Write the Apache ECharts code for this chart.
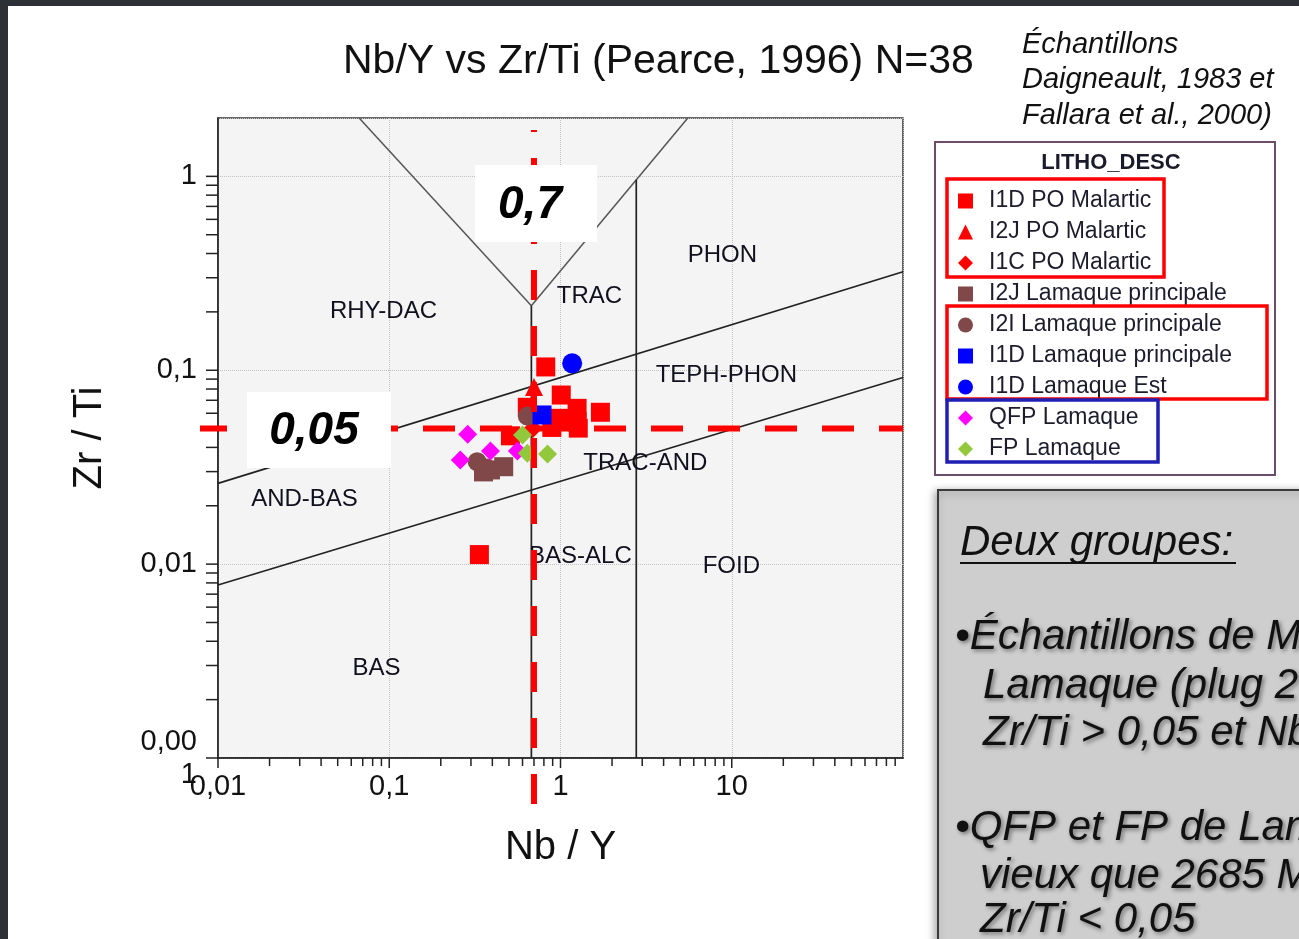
<!DOCTYPE html>
<html>
<head>
<meta charset="utf-8">
<script src="https://cdn.jsdelivr.net/npm/echarts@6.0.0/dist/echarts.min.js"></script>
<style>
html, body { margin: 0; padding: 0; background: #fff; }
#main { width: 1299px; height: 939px; }
</style>
</head>
<body>
<div id="main"></div>
<script>
// valeurs : [Nb/Y, Zr/Ti]
const i1dPoMalartic = [[0.82, 0.104], [1.01, 0.0745], [1.25, 0.0636], [1.71, 0.0607], [0.975, 0.0565],
    [1.25, 0.0542], [0.89, 0.0507], [1.27, 0.0503], [0.64, 0.0644], [0.51, 0.0459], [0.336, 0.0112]];
const i2jPoMalartic = [[0.70, 0.082]];
const i1cPoMalartic = [[0.69, 0.050]];
const i2jLamaquePrincipale = [[0.39, 0.0306], [0.466, 0.0318], [0.355, 0.0299]];
const i2iLamaquePrincipale = [[0.64, 0.058], [0.326, 0.0337], [0.37, 0.0313]];
const i1dLamaquePrincipale = [[0.78, 0.0588]];
const i1dLamaqueEst = [[1.17, 0.1085]];
const qfpLamaque = [[0.287, 0.0467], [0.39, 0.0383], [0.26, 0.0344], [0.56, 0.0383]];
const fpLamaque = [[0.60, 0.0463], [0.64, 0.0373], [0.84, 0.037]];

// limites du diagramme de Pearce (1996)
const pearceLines = [
    [[0.0667, 2], [0.676, 0.215]],
    [[0.676, 0.215], [5.54, 2]],
    [[0.676, 0.215], [0.676, 0.001]],
    [[2.77, 0.96], [2.77, 0.001]],
    [[0.01, 0.0261], [100, 0.322]],
    [[0.01, 0.0078], [100, 0.0918]]
];
const regionNames = ['RHY-DAC', 'TRAC', 'PHON', 'TEPH-PHON', 'TRAC-AND', 'AND-BAS', 'BAS-ALC', 'FOID', 'BAS'];
const regionPos = [[0.0925, 0.2018], [1.475, 0.2414], [8.81, 0.3926], [9.3, 0.0945], [3.13, 0.0332],
    [0.032, 0.02166], [1.307, 0.011], [9.95, 0.00977], [0.0842, 0.00291]];

// seuils
const nbyCut = 0.7;
const zrtiCut = 0.05;

// axes
const xMin = 0.01, xMax = 100, yMin = 0.001, yMax = 2;
const xTickValues = [0.01, 0.1, 1, 10];
const xTickLabels = ['0,01', '0,1', '1', '10'];
const yTickValues = [0.001, 0.01, 0.1, 1];
const yTickLabels = ['0,00\n1', '0,01', '0,1', '1'];
const minorSteps = [1, 2, 3, 4, 5, 6, 7, 8, 9];

const FONT = '"Liberation Sans", Arial, sans-serif';

function tickLabel(v, values, labels) {
    for (let i = 0; i < values.length; i++) {
        if (Math.abs(Math.log10(v) - Math.log10(values[i])) < 1e-6) return labels[i];
    }
    return '';
}

// graduations log (1..9 par décade)
const tickItems = [];
[0.01, 0.1, 1, 10].forEach(d => minorSteps.forEach(s => tickItems.push([d * s, yMin, s === 1 ? 1 : 0])));
[0.001, 0.01, 0.1].forEach(d => minorSteps.forEach(s => tickItems.push([xMin, d * s, 2])));
tickItems.push([xMin, 1, 2]);

const chart = echarts.init(document.getElementById('main'));

function points(name, data, symbol, color, size) {
    return {
        type: 'scatter', name: name, data: data, symbol: symbol, symbolSize: size,
        itemStyle: { color: color, opacity: 1 }, z: 5, silent: true
    };
}

const legendNames = ['I1D PO Malartic', 'I2J PO Malartic', 'I1C PO Malartic', 'I2J Lamaque principale',
    'I2I Lamaque principale', 'I1D Lamaque principale', 'I1D Lamaque Est', 'QFP Lamaque', 'FP Lamaque'];
const legendIcons = ['rect', 'triangle', 'diamond', 'rect', 'circle', 'rect', 'circle', 'diamond', 'diamond'];

const series = [];
pearceLines.forEach((seg, i) => {
    series.push({
        type: 'line', data: seg, symbol: 'none', silent: true, z: 2,
        lineStyle: { color: i < 2 ? '#555' : '#222', width: i < 2 ? 1.5 : 1.7 }
    });
});
series.push({
    type: 'scatter', name: 'regions', silent: true, z: 2, symbolSize: 1,
    itemStyle: { color: 'transparent', opacity: 1 },
    data: regionNames.map((n, i) => ({ name: n, value: regionPos[i] })),
    label: { show: true, position: 'inside', formatter: p => p.name, fontSize: 24, color: '#10101e', fontFamily: FONT }
});
series.push(points(legendNames[0], i1dPoMalartic, 'rect', '#ff0000', 19));
series.push(points(legendNames[1], i2jPoMalartic, 'triangle', '#ff0000', 18));
series.push(points(legendNames[2], i1cPoMalartic, 'diamond', '#ff0000', 19));
series.push(points(legendNames[3], i2jLamaquePrincipale, 'rect', '#804848', 19));
series.push(points(legendNames[4], i2iLamaquePrincipale, 'circle', '#804848', 19));
series.push(points(legendNames[5], i1dLamaquePrincipale, 'rect', '#0000ff', 19));
series.push(points(legendNames[6], i1dLamaqueEst, 'circle', '#0000ff', 20));
series.push(points(legendNames[7], qfpLamaque, 'diamond', '#ff00ff', 19));
series.push(points(legendNames[8], fpLamaque, 'diamond', '#94c83c', 19));

// petites graduations
series.push({
    type: 'custom', name: 'ticks', silent: true, clip: false, z: 3,
    encode: { x: 0, y: 1 },
    data: tickItems,
    renderItem: function (params, api) {
        const p = api.coord([api.value(0), api.value(1)]);
        const kind = api.value(2);
        if (kind === 2) {
            return { type: 'line', shape: { x1: p[0] - 12, y1: p[1], x2: p[0], y2: p[1] },
                style: { stroke: '#222', lineWidth: 1.5 } };
        }
        return { type: 'line', shape: { x1: p[0], y1: p[1], x2: p[0], y2: p[1] + (kind === 1 ? 10 : 8) },
            style: { stroke: '#222', lineWidth: 1.5 } };
    }
});

// traits rouges des seuils
series.push({
    type: 'custom', name: 'cuts', silent: true, clip: false, z: 6,
    encode: { x: 0, y: 1 },
    data: [[nbyCut, zrtiCut]],
    renderItem: function (params, api) {
        const c = api.coord([api.value(0), api.value(1)]);
        const lb = api.coord([xMin, yMin]);
        const rt = api.coord([xMax, yMax]);
        return {
            type: 'group', children: [
                { type: 'line', shape: { x1: lb[0] - 18, y1: c[1], x2: rt[0], y2: c[1] },
                    style: { stroke: '#ff0000', lineWidth: 6, lineDash: [32, 25], lineDashOffset: 5 } },
                { type: 'line', shape: { x1: c[0], y1: rt[1] + 12, x2: c[0], y2: lb[1] + 47 },
                    style: { stroke: '#ff0000', lineWidth: 6, lineDash: [30, 26], lineDashOffset: 28 } }
            ]
        };
    }
});

const noteFont = 'italic 29px ' + FONT;
const boxFont = 'italic 42px ' + FONT;
const shadow = { textShadowBlur: 4, textShadowColor: 'rgba(0,0,0,0.45)', textShadowOffsetX: 2, textShadowOffsetY: 2 };

function txt(text, x, y, font, extra, z) {
    return {
        type: 'text', x: x, y: y, z: z || 20,
        style: Object.assign({ text: text, font: font, fill: '#111', textAlign: 'left', align: 'left',
            textVerticalAlign: 'middle', verticalAlign: 'middle' }, extra || {})
    };
}

const option = {
    backgroundColor: '#fff',
    animation: false,
    textStyle: { fontFamily: FONT },
    title: {
        text: 'Nb/Y vs Zr/Ti (Pearce, 1996) N=38', left: 343, top: 41, padding: 0,
        textStyle: { fontSize: 41, fontWeight: 'normal', color: '#111', fontFamily: FONT }
    },
    grid: {
        left: 218, top: 118, width: 685, height: 640, show: true,
        backgroundColor: '#f4f4f4', borderColor: '#333', borderWidth: 1.5,
        containLabel: false, outerBoundsMode: 'none'
    },
    xAxis: {
        type: 'log', logBase: 10, min: xMin, max: xMax,
        name: 'Nb / Y', nameLocation: 'middle', nameGap: 70,
        nameTextStyle: { fontSize: 40, color: '#111', fontFamily: FONT },
        axisLine: { show: true, lineStyle: { color: '#222', width: 1.5 } },
        axisTick: { show: false },
        splitLine: { show: true, lineStyle: { type: 'dotted', color: '#c2c2c2', width: 1 } },
        axisLabel: { margin: 14, fontSize: 29, color: '#111', fontFamily: FONT, showMinLabel: true,
            formatter: v => tickLabel(v, xTickValues, xTickLabels) }
    },
    yAxis: {
        type: 'log', logBase: 10, min: yMin, max: yMax,
        name: 'Zr / Ti', nameLocation: 'middle', nameRotate: 90, nameGap: 108,
        nameTextStyle: { fontSize: 40, color: '#111', fontFamily: FONT },
        axisLine: { show: true, lineStyle: { color: '#222', width: 1.5 } },
        axisTick: { show: false },
        splitLine: { show: true, lineStyle: { type: 'dotted', color: '#c2c2c2', width: 1 } },
        axisLabel: { margin: 21, fontSize: 29, lineHeight: 33, color: '#111', fontFamily: FONT, showMinLabel: true,
            formatter: v => tickLabel(v, yTickValues, yTickLabels) }
    },
    legend: {
        orient: 'vertical', left: 958, top: 189.5, padding: 0, itemWidth: 15, itemHeight: 15, itemGap: 8,
        selectedMode: false,
        data: legendNames.map((n, i) => ({ name: n, icon: legendIcons[i] })),
        textStyle: { fontSize: 23, color: '#1c1c2c', fontFamily: FONT, padding: [0, 0, 0, 11] }
    },
    graphic: [
        { type: 'rect', shape: { x: 0, y: 0, width: 1299, height: 6 }, style: { fill: '#2d3136' }, z: 30 },
        { type: 'rect', shape: { x: 0, y: 0, width: 8, height: 939 }, style: { fill: '#2d3136' }, z: 30 },
        txt('Échantillons', 1022, 45, noteFont),
        txt('Daigneault, 1983 et', 1022, 80, noteFont),
        txt('Fallara et al., 2000)', 1022, 116, noteFont),
        // cadre de légende
        { type: 'rect', shape: { x: 935, y: 142, width: 340, height: 333 }, style: { fill: '#fff', stroke: '#6b4c6b', lineWidth: 2 }, z: 1 },
        txt('LITHO_DESC', 1111, 163, 'bold 22px ' + FONT, { textAlign: 'center', align: 'center', fill: '#1a1a2a' }),
        { type: 'rect', shape: { x: 947, y: 179, width: 217, height: 98 }, style: { fill: 'none', stroke: '#ff0000', lineWidth: 3.5 }, z: 20 },
        { type: 'rect', shape: { x: 947, y: 306, width: 320, height: 93 }, style: { fill: 'none', stroke: '#ff0000', lineWidth: 3.5 }, z: 20 },
        { type: 'rect', shape: { x: 947, y: 400, width: 211, height: 62 }, style: { fill: 'none', stroke: '#1f1fb4', lineWidth: 3.5 }, z: 20 },
        // étiquettes des seuils
        { type: 'rect', shape: { x: 475, y: 165, width: 122, height: 77 }, style: { fill: '#fff' }, z: 40 },
        txt('0,7', 530, 205, 'italic bold 46px ' + FONT, { textAlign: 'center', align: 'center', fill: '#000' }, 41),
        { type: 'rect', shape: { x: 247, y: 392, width: 144, height: 76 }, style: { fill: '#fff' }, z: 40 },
        txt('0,05', 314, 431, 'italic bold 46px ' + FONT, { textAlign: 'center', align: 'center', fill: '#000' }, 41),
        // encadré de droite
        { type: 'rect', shape: { x: 938, y: 490, width: 420, height: 480 },
            style: { fill: '#cecece', stroke: '#3a3a3a', lineWidth: 2, shadowBlur: 8, shadowColor: 'rgba(0,0,0,0.35)', shadowOffsetX: -2, shadowOffsetY: 2 }, z: 15 },
        txt('Deux groupes:', 960, 543, boxFont),
        { type: 'line', shape: { x1: 960, y1: 563, x2: 1236, y2: 563 }, style: { stroke: '#111', lineWidth: 2 }, z: 20 },
        txt('•Échantillons de Malartic et', 955, 637, boxFont, shadow),
        txt('Lamaque (plug 2685 Ma):', 983, 686, boxFont, shadow),
        txt('Zr/Ti > 0,05 et Nb/Y > 0,7', 983, 733, boxFont, shadow),
        txt('•QFP et FP de Lamaque plus', 955, 828, boxFont, shadow),
        txt('vieux que 2685 Ma', 980, 876, boxFont, shadow),
        txt('Zr/Ti < 0,05', 980, 920, boxFont, shadow)
    ],
    series: series
};

chart.setOption(option);
</script>
</body>
</html>
